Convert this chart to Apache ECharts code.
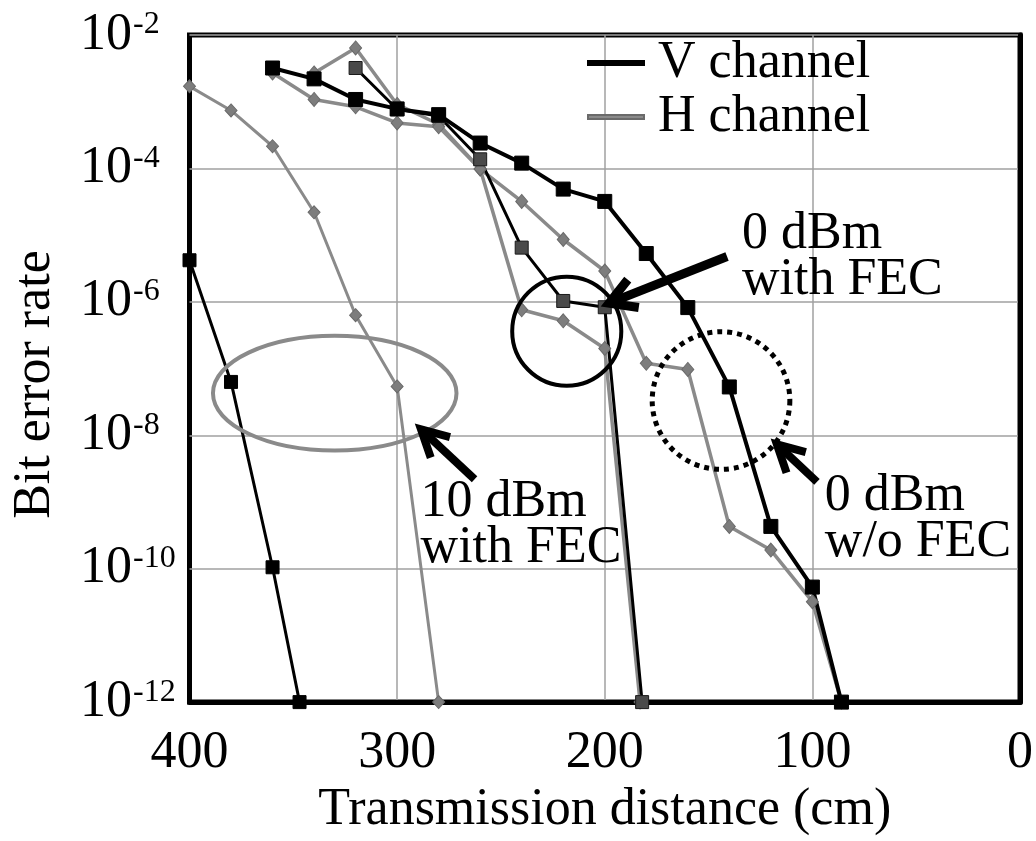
<!DOCTYPE html>
<html>
<head>
<meta charset="utf-8">
<script src="https://cdn.jsdelivr.net/npm/echarts@6/dist/echarts.min.js"></script>
<style>
html,body{margin:0;padding:0;background:#fff;}
#chart{width:1036px;height:841px;}
</style>
</head>
<body>
<div id="chart"></div>
<script>
// ---- data (distance in cm, bit error rate) ----
var xTicks = [400, 300, 200, 100, 0];
var yTickExponents = [-2, -4, -6, -8, -10, -12];

// 0 dBm without FEC
var distV0 = [360, 340, 320, 300, 280, 260, 240, 220, 200, 180, 160, 140, 120, 100, 86];
var berV0  = [3.2e-3, 2.2e-3, 1.08e-3, 7.8e-4, 6.4e-4, 2.4e-4, 1.2e-4, 4.9e-5, 3.2e-5, 5.3e-6, 8.2e-7, 5.3e-8, 4.3e-10, 5.3e-11, 1e-12];
var distH0 = [360, 340, 320, 300, 280, 260, 240, 220, 200, 180, 160, 140, 120, 100, 86];
var berH0  = [2.7e-3, 1.08e-3, 8.4e-4, 4.8e-4, 4.2e-4, 9.8e-5, 3.2e-5, 8.6e-6, 2.9e-6, 1.2e-7, 9.7e-8, 4.3e-10, 1.9e-10, 3.2e-11, 1e-12];

// 0 dBm with FEC
var distVF = [320, 300, 280, 260, 240, 220, 200, 182];
var berVF  = [3.2e-3, 7.7e-4, 6.1e-4, 1.37e-4, 6.5e-6, 1.03e-6, 8.3e-7, 1e-12];
var distHF = [340, 320, 300, 280, 260, 240, 220, 200, 183];
var berHF  = [2.7e-3, 6.4e-3, 9.1e-4, 4.6e-4, 9.8e-5, 7.6e-7, 5.2e-7, 2.0e-7, 1e-12];

// 10 dBm with FEC
var distV10 = [400, 380, 360, 347];
var berV10  = [4.2e-6, 6.3e-8, 1.05e-10, 1e-12];
var distH10 = [400, 380, 360, 340, 320, 300, 280];
var berH10  = [1.7e-3, 7.4e-4, 2.15e-4, 2.2e-5, 6.3e-7, 5.4e-8, 1e-12];

// annotation texts
var annoTexts = ['0 dBm\nwith FEC', '10 dBm\nwith FEC', '0 dBm\nw/o FEC'];

function pairs(xs, ys) { return xs.map(function (x, i) { return [x, ys[i]]; }); }

var FONT = '"Liberation Serif", "Times New Roman", serif';
var GRAY = '#8a8a8a';

var chart = echarts.init(document.getElementById('chart'), null, { renderer: 'canvas' });

function lineSeries(name, data, lineColor, lw, symbol, size, fill, border) {
  return {
    name: name, type: 'line', data: data, clip: false,
    symbol: symbol, symbolSize: size, showAllSymbol: true,
    lineStyle: { color: lineColor, width: lw },
    itemStyle: { color: fill, borderColor: border, borderWidth: 1 },
    emphasis: { disabled: true }, animation: false
  };
}

var option = {
  animation: false,
  backgroundColor: '#fff',
  grid: { left: 189.5, right: 14, top: 35, bottom: 134.5, show: true, borderColor: '#000', borderWidth: 5, containLabel: false },
  legend: {
    orient: 'vertical', left: 587, top: 37, padding: 0, itemGap: 2,
    itemWidth: 56, itemHeight: 4, selectedMode: false,
    formatter: function (name) { return '{t|' + name + '}'; },
    textStyle: {
      fontFamily: FONT, fontSize: 52, color: '#000', lineHeight: 52,
      rich: { t: { fontFamily: FONT, fontSize: 52, color: '#000', lineHeight: 52, padding: [0, 0, 0, 9] } }
    },
    data: [
      { name: 'V channel', icon: 'rect', itemStyle: { color: '#000' } },
      { name: 'H channel', icon: 'rect', itemStyle: { color: GRAY } }
    ]
  },
  xAxis: {
    type: 'value', min: 0, max: 400, interval: 100, inverse: true,
    name: 'Transmission distance (cm)', nameLocation: 'middle', nameGap: 80,
    nameTextStyle: { fontFamily: FONT, fontSize: 52, color: '#000' },
    axisLine: { show: true, lineStyle: { color: '#000', width: 5 } },
    axisTick: { show: false },
    axisLabel: { fontFamily: FONT, fontSize: 52, color: '#000', margin: 25 },
    splitLine: { show: true, showMinLine: false, showMaxLine: false, lineStyle: { color: '#a0a0a0', width: 1.5 } }
  },
  yAxis: {
    type: 'log', logBase: 10, min: 1e-12, max: 1e-2, interval: 2,
    name: 'Bit error rate', nameLocation: 'middle', nameGap: 128,
    nameTextStyle: { fontFamily: FONT, fontSize: 52, color: '#000', padding: [0, 32, 0, 0] },
    axisLine: { show: true, lineStyle: { color: '#000', width: 5 } },
    axisTick: { show: false },
    axisLabel: {
      align: 'left', margin: 109.5,
      formatter: function (v) {
        var e = Math.round(Math.log10(v));
        return '{b|10}{e|' + e + '}';
      },
      rich: {
        b: { fontFamily: FONT, fontSize: 52, lineHeight: 52, color: '#000' },
        e: { fontFamily: FONT, fontSize: 32, lineHeight: 32, verticalAlign: 'top', color: '#000', padding: [0, 0, 0, 1] }
      }
    },
    splitLine: { show: true, showMinLine: false, showMaxLine: false, lineStyle: { color: '#a0a0a0', width: 1.5 } },
    minorSplitLine: { show: false }
  },
  series: [
    lineSeries('H channel', pairs(distH10, berH10), GRAY, 3, 'diamond', [12, 13], '#7d7d7d', '#6a6a6a'),
    lineSeries('H channel', pairs(distHF, berHF), GRAY, 3.5, 'diamond', [12, 14], '#7d7d7d', '#6a6a6a'),
    lineSeries('H channel', pairs(distH0, berH0), GRAY, 3.5, 'diamond', [12, 14], '#7d7d7d', '#6a6a6a'),
    lineSeries('V channel', pairs(distV10, berV10), '#000', 3, 'rect', 13, '#000', '#000'),
    lineSeries('V channel', pairs(distVF, berVF), '#000', 3, 'rect', 13, '#4a4a4a', '#1a1a1a'),
    lineSeries('V channel', pairs(distV0, berV0), '#000', 4, 'rect', 14, '#000', '#000')
  ]
};
chart.setOption(option);

// ---- annotations, positioned in data space ----
function P(d, e) { return chart.convertToPixel({ gridIndex: 0 }, [d, Math.pow(10, e)]); }
function boxShape(d1, e1, d2, e2) {
  var a = P(d1, e1), b = P(d2, e2);
  return { cx: (a[0] + b[0]) / 2, cy: (a[1] + b[1]) / 2, rx: Math.abs(b[0] - a[0]) / 2, ry: Math.abs(b[1] - a[1]) / 2 };
}
function arrow(tipD, tipE, tailD, tailE, lw, L, ang) {
  var t = P(tipD, tipE), s = P(tailD, tailE);
  var dx = s[0] - t[0], dy = s[1] - t[1], len = Math.sqrt(dx * dx + dy * dy);
  var ux = dx / len, uy = dy / len, a = ang * Math.PI / 180;
  function rot(c, sn) { return [t[0] + L * (ux * c - uy * sn), t[1] + L * (ux * sn + uy * c)]; }
  var h1 = rot(Math.cos(a), Math.sin(a)), h2 = rot(Math.cos(-a), Math.sin(-a));
  return [
    { type: 'polyline', shape: { points: [t, s] }, style: { stroke: '#000', lineWidth: lw, fill: null }, z: 100 },
    { type: 'polyline', shape: { points: [h1, t, h2] }, style: { stroke: '#000', lineWidth: lw, fill: null, lineJoin: 'miter' }, z: 100 }
  ];
}

var ell = boxShape(388.7, -6.51, 271.4, -8.23);
var c1 = boxShape(244.5, -5.62, 192.1, -7.26);
var c2 = boxShape(177.2, -6.45, 110.8, -8.51);

var graphics = [
  { type: 'ellipse', shape: { cx: ell.cx, cy: ell.cy, rx: ell.rx, ry: ell.ry }, style: { stroke: GRAY, lineWidth: 4, fill: null }, z: 100 },
  { type: 'circle', shape: { cx: c1.cx, cy: c1.cy, r: (c1.rx + c1.ry) / 2 }, style: { stroke: '#000', lineWidth: 4, fill: null }, z: 100 },
  { type: 'circle', shape: { cx: c2.cx, cy: c2.cy, r: (c2.rx + c2.ry) / 2 }, style: { stroke: '#000', lineWidth: 5, fill: null, lineDash: [5, 5] }, z: 100 }
];
graphics = graphics.concat(arrow(197.9, -6.02, 141.1, -5.32, 9, 30, 30));
graphics = graphics.concat(arrow(288.5, -7.91, 262.7, -8.66, 8, 30, 28));
graphics = graphics.concat(arrow(117.1, -8.135, 97.8, -8.70, 8, 30, 28));

var textPos = [[133.9, -5.336], [288.7, -9.357], [94.0, -9.267]];
textPos.forEach(function (p, i) {
  var q = P(p[0], p[1]);
  graphics.push({
    type: 'text', x: q[0], y: q[1], z: 100,
    style: { text: annoTexts[i], fontFamily: FONT, fontSize: 52, lineHeight: 46, fill: '#000', align: 'left', verticalAlign: 'middle' }
  });
});

chart.setOption({ graphic: graphics });
</script>
</body>
</html>
